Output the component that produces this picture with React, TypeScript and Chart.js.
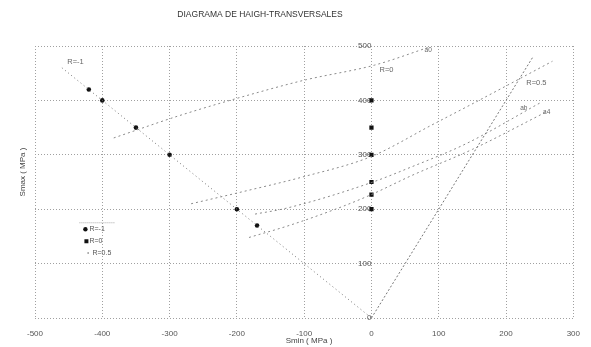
import React, { useEffect, useRef } from "react";
import { Chart, registerables } from "chart.js";

Chart.register(...registerables);

const TITLE = "DIAGRAMA DE HAIGH-TRANSVERSALES";
const X_TITLE = "Smin ( MPa )";
const Y_TITLE = "Smax ( MPa )";

const xTickValues = [-500, -400, -300, -200, -100, 0, 100, 200, 300];
const yTickValues = [0, 100, 200, 300, 400, 500];

// R = -1 markers and line
const rMinus1Smin = [-420, -400, -350, -300, -200, -170];
const rMinus1Smax = [420, 400, 350, 300, 200, 170];
const rMinus1LineSmin = [-460, 0];
const rMinus1LineSmax = [460, 0];

// R = 0 markers (Smin = 0)
const r0Smin = [0, 0, 0, 0, 0, 0];
const r0Smax = [400, 350, 300, 250, 227, 200];

// R = 0.5 line
const r05LineSmin = [0, 240];
const r05LineSmax = [0, 480];

// transversal lines
const lineASmin = [-383, -283, -156, -97, 5, 86];
const lineASmax = [331, 373, 419, 438, 465, 498];

const lineBSmin = [-268, -192, -100, 0, 90, 152, 269];
const lineBSmax = [210, 232, 260, 297, 355, 395, 472];

const lineESmin = [-173, -126, 0, 60, 140, 250];
const lineESmax = [191, 202, 249, 278, 320, 395];

const lineFSmin = [-182, -120, -43, 0, 60, 150, 260];
const lineFSmax = [148, 171, 205, 227, 262, 310, 379];

// annotation labels: [text, Smin, Smax]
const labelTexts = ["R=-1", "R=0", "R=0.5", "a0", "ab", "a4"];
const labelSmin = [-452, 12, 230, 79, 221, 255];
const labelSmax = [470, 456, 432, 493, 386, 379];

const legendLabels = ["R=-1", "R=0", "R=0.5"];

const pts = (xs: number[], ys: number[]) => xs.map((x, i) => ({ x, y: ys[i] }));

const FONT = '"Liberation Sans", Arial, sans-serif';

const textPlugin = {
  id: "texts",
  afterDraw(chart: any) {
    const ctx = chart.ctx as CanvasRenderingContext2D;
    const xs = chart.scales.x;
    const ys = chart.scales.y;
    ctx.save();
    ctx.fillStyle = "#333";
    ctx.textBaseline = "middle";
    // title
    ctx.font = `8.5px ${FONT}`;
    ctx.textAlign = "center";
    ctx.fillText(TITLE, 260, 15);
    // x title
    ctx.font = `8px ${FONT}`;
    ctx.fillStyle = "#444";
    ctx.fillText(X_TITLE, 309, 341);
    // y title
    ctx.save();
    ctx.translate(23, 172);
    ctx.rotate(-Math.PI / 2);
    ctx.fillText(Y_TITLE, 0, 0);
    ctx.restore();
    // line labels
    ctx.textAlign = "left";
    ctx.fillStyle = "#666";
    labelTexts.forEach((t, i) => {
      ctx.font = i < 3 ? `7.5px ${FONT}` : `6.5px ${FONT}`;
      ctx.fillText(t, xs.getPixelForValue(labelSmin[i]), ys.getPixelForValue(labelSmax[i]));
    });
    // legend
    const lx = xs.getPixelForValue(-434);
    const ly = ys.getPixelForValue(176);
    ctx.strokeStyle = "#aaa";
    ctx.lineWidth = 1;
    ctx.setLineDash([1, 1]);
    ctx.beginPath();
    ctx.moveTo(lx, ly + 0.5);
    ctx.lineTo(lx + 35, ly + 0.5);
    ctx.stroke();
    ctx.setLineDash([]);
    ctx.font = `7px ${FONT}`;
    ctx.fillStyle = "#111";
    ctx.beginPath();
    ctx.arc(lx + 6, ly + 7, 2.2, 0, Math.PI * 2);
    ctx.fill();
    ctx.fillRect(lx + 5, ly + 17, 4, 4);
    ctx.fillStyle = "#888";
    ctx.fillRect(lx + 8, ly + 30, 1.5, 1.5);
    ctx.fillStyle = "#555";
    ctx.fillText(legendLabels[0], lx + 10, ly + 7);
    ctx.fillText(legendLabels[1], lx + 10, ly + 19);
    ctx.fillText(legendLabels[2], lx + 13, ly + 31);
    ctx.restore();
  },
};

export default function App() {
  const ref = useRef<HTMLCanvasElement>(null);
  useEffect(() => {
    if (!ref.current) return;
    const lineStyle = (color: string, dash: number[]) => ({
      showLine: true,
      borderColor: color,
      borderWidth: 1,
      borderDash: dash,
      pointRadius: 0,
      cubicInterpolationMode: "monotone" as const,
      fill: false,
    });
    const chart = new Chart(ref.current, {
      type: "scatter",
      data: {
        datasets: [
          { label: "R=-1 line", data: pts(rMinus1LineSmin, rMinus1LineSmax), ...lineStyle("#777", [1, 3]) },
          { label: "R=0.5 line", data: pts(r05LineSmin, r05LineSmax), ...lineStyle("#777", [2, 2]) },
          { label: "A", data: pts(lineASmin, lineASmax), ...lineStyle("#8a8a8a", [2, 3]) },
          { label: "B", data: pts(lineBSmin, lineBSmax), ...lineStyle("#8a8a8a", [2, 3]) },
          { label: "E", data: pts(lineESmin, lineESmax), ...lineStyle("#8a8a8a", [2, 3]) },
          { label: "F", data: pts(lineFSmin, lineFSmax), ...lineStyle("#8a8a8a", [2, 3]) },
          {
            label: "R=-1",
            data: pts(rMinus1Smin, rMinus1Smax),
            showLine: false,
            pointStyle: "circle",
            pointRadius: 2.3,
            backgroundColor: "#111",
            borderColor: "#111",
            borderWidth: 0,
          },
          {
            label: "R=0",
            data: pts(r0Smin, r0Smax),
            showLine: false,
            pointStyle: "rect",
            pointRadius: 3,
            backgroundColor: "#111",
            borderColor: "#111",
            borderWidth: 0,
          },
        ],
      },
      options: {
        animation: false,
        responsive: false,
        devicePixelRatio: 1,
        layout: { padding: { left: 35, right: 10, top: 46, bottom: 29 } },
        plugins: { legend: { display: false }, title: { display: false }, tooltip: { enabled: false } },
        scales: {
          x: {
            type: "linear",
            position: { y: 0 } as any,
            min: -500,
            max: 300,
            afterBuildTicks: (s: any) => {
              s.ticks = xTickValues.map((v) => ({ value: v }));
            },
            grid: { color: "#a0a0a0", drawTicks: false, lineWidth: 1 },
            border: { display: false, dash: [1, 2] },
            ticks: { color: "#555", padding: 11, font: { size: 8, family: FONT }, maxRotation: 0 },
          },
          y: {
            type: "linear",
            position: { x: 0 } as any,
            min: 0,
            max: 500,
            afterBuildTicks: (s: any) => {
              s.ticks = yTickValues.map((v) => ({ value: v }));
            },
            grid: { color: "#a0a0a0", drawTicks: false, lineWidth: 1 },
            border: { display: false, dash: [1, 2] },
            ticks: { color: "#555", padding: 5, font: { size: 8, family: FONT } },
          },
        },
      },
      plugins: [textPlugin],
    });
    return () => chart.destroy();
  }, []);
  return (
    <div style={{ position: "fixed", left: 0, top: 0, width: 591, height: 347, background: "#fff" }}>
      <canvas ref={ref} width={591} height={347} style={{ display: "block" }} />
    </div>
  );
}
